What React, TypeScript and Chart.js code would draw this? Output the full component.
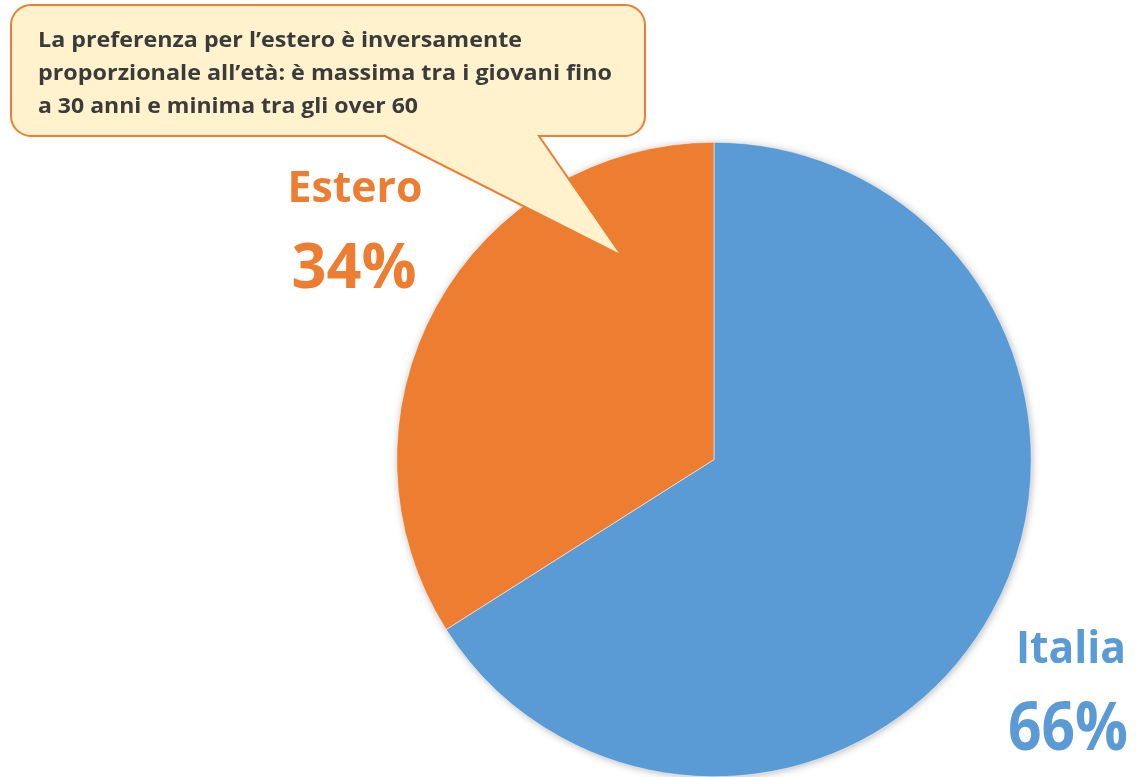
import React, { useEffect, useRef } from "react";
import { Chart, registerables } from "chart.js";

Chart.register(...registerables);

// ---- data ----
const categories = ["Italia", "Estero"];
const shares = [66, 34];
const calloutLines = [
  "La preferenza per l’estero è inversamente",
  "proporzionale all’età: è massima tra i giovani fino",
  "a 30 anni e minima tra gli over 60",
];

// ---- styles ----
const sliceColors = ["#5B9BD5", "#ED7D31"];
const FONT = "'Open Sans', Lato, sans-serif";

const labelLayout = [
  { cx: 1071, nameY: 663, nameSize: 45, nameW: 110, pctCx: 1068, pctY: 750, pctSize: 66, pctW: 120 },
  { cx: 355, nameY: 202, nameSize: 43, nameW: 135, pctCx: 354, pctY: 288, pctSize: 62, pctW: 125 },
];
const calloutLayout = [
  { x: 38, y: 47, w: 484 },
  { x: 38, y: 80, w: 574 },
  { x: 38, y: 113, w: 380 },
];

function fitText(
  ctx: CanvasRenderingContext2D,
  text: string,
  left: number,
  baseline: number,
  size: number,
  targetW: number
) {
  ctx.font = `bold ${size}px ${FONT}`;
  const w = ctx.measureText(text).width;
  const s = targetW / w;
  ctx.save();
  ctx.translate(left, baseline);
  ctx.scale(s, 1);
  ctx.textAlign = "left";
  ctx.textBaseline = "alphabetic";
  ctx.fillText(text, 0, 0);
  ctx.restore();
}

const shadowPlugin = {
  id: "pieShadow",
  beforeDatasetsDraw(chart: any) {
    const arc = chart.getDatasetMeta(0).data[0] as any;
    if (!arc) return;
    const ctx = chart.ctx as CanvasRenderingContext2D;
    ctx.save();
    ctx.shadowColor = "rgba(0,0,0,0.35)";
    ctx.shadowBlur = 9;
    ctx.shadowOffsetX = 1;
    ctx.shadowOffsetY = 1;
    ctx.fillStyle = "#ffffff";
    ctx.beginPath();
    ctx.arc(arc.x, arc.y, arc.outerRadius - 1, 0, Math.PI * 2);
    ctx.fill();
    ctx.restore();
  },
};

const overlayPlugin = {
  id: "overlay",
  afterDraw(chart: any) {
    const ctx = chart.ctx as CanvasRenderingContext2D;
    categories.forEach((name, i) => {
      const L = labelLayout[i];
      ctx.fillStyle = sliceColors[i];
      fitText(ctx, name, L.cx - L.nameW / 2, L.nameY, L.nameSize, L.nameW);
      fitText(ctx, `${shares[i]}%`, L.pctCx - L.pctW / 2, L.pctY, L.pctSize, L.pctW);
    });

    const x0 = 11, y0 = 5, x1 = 645, y1 = 136, r = 20;
    ctx.save();
    ctx.beginPath();
    ctx.moveTo(x0 + r, y0);
    ctx.lineTo(x1 - r, y0);
    ctx.arcTo(x1, y0, x1, y0 + r, r);
    ctx.lineTo(x1, y1 - r);
    ctx.arcTo(x1, y1, x1 - r, y1, r);
    ctx.lineTo(539, y1);
    ctx.lineTo(622, 256);
    ctx.lineTo(385, y1);
    ctx.lineTo(x0 + r, y1);
    ctx.arcTo(x0, y1, x0, y1 - r, r);
    ctx.lineTo(x0, y0 + r);
    ctx.arcTo(x0, y0, x0 + r, y0, r);
    ctx.closePath();
    ctx.fillStyle = "#FFF2CC";
    ctx.fill();
    ctx.lineWidth = 2;
    ctx.strokeStyle = "#ED7D31";
    ctx.lineJoin = "miter";
    ctx.stroke();
    ctx.restore();

    ctx.fillStyle = "#3B3B3B";
    calloutLines.forEach((line, i) => {
      const c = calloutLayout[i];
      fitText(ctx, line, c.x, c.y, 22, c.w);
    });
  },
};

export default function App() {
  const ref = useRef<HTMLCanvasElement | null>(null);

  useEffect(() => {
    document.body.style.margin = "0";
    if (!ref.current) return;
    const chart = new Chart(ref.current, {
      type: "pie",
      data: {
        labels: categories,
        datasets: [
          {
            data: shares,
            backgroundColor: sliceColors,
            borderColor: "#ffffff",
            borderWidth: 0.5,
          },
        ],
      },
      options: {
        responsive: false,
        animation: false,
        rotation: 0,
        layout: { padding: { left: 396, right: 104, top: 142, bottom: 0 } },
        plugins: {
          legend: { display: false },
          tooltip: { enabled: false },
        },
      },
      plugins: [shadowPlugin, overlayPlugin],
    });
    return () => chart.destroy();
  }, []);

  return (
    <div style={{ position: "fixed", left: 0, top: 0, width: 1136, height: 777, background: "#fff" }}>
      <canvas ref={ref} width={1136} height={777} />
    </div>
  );
}
